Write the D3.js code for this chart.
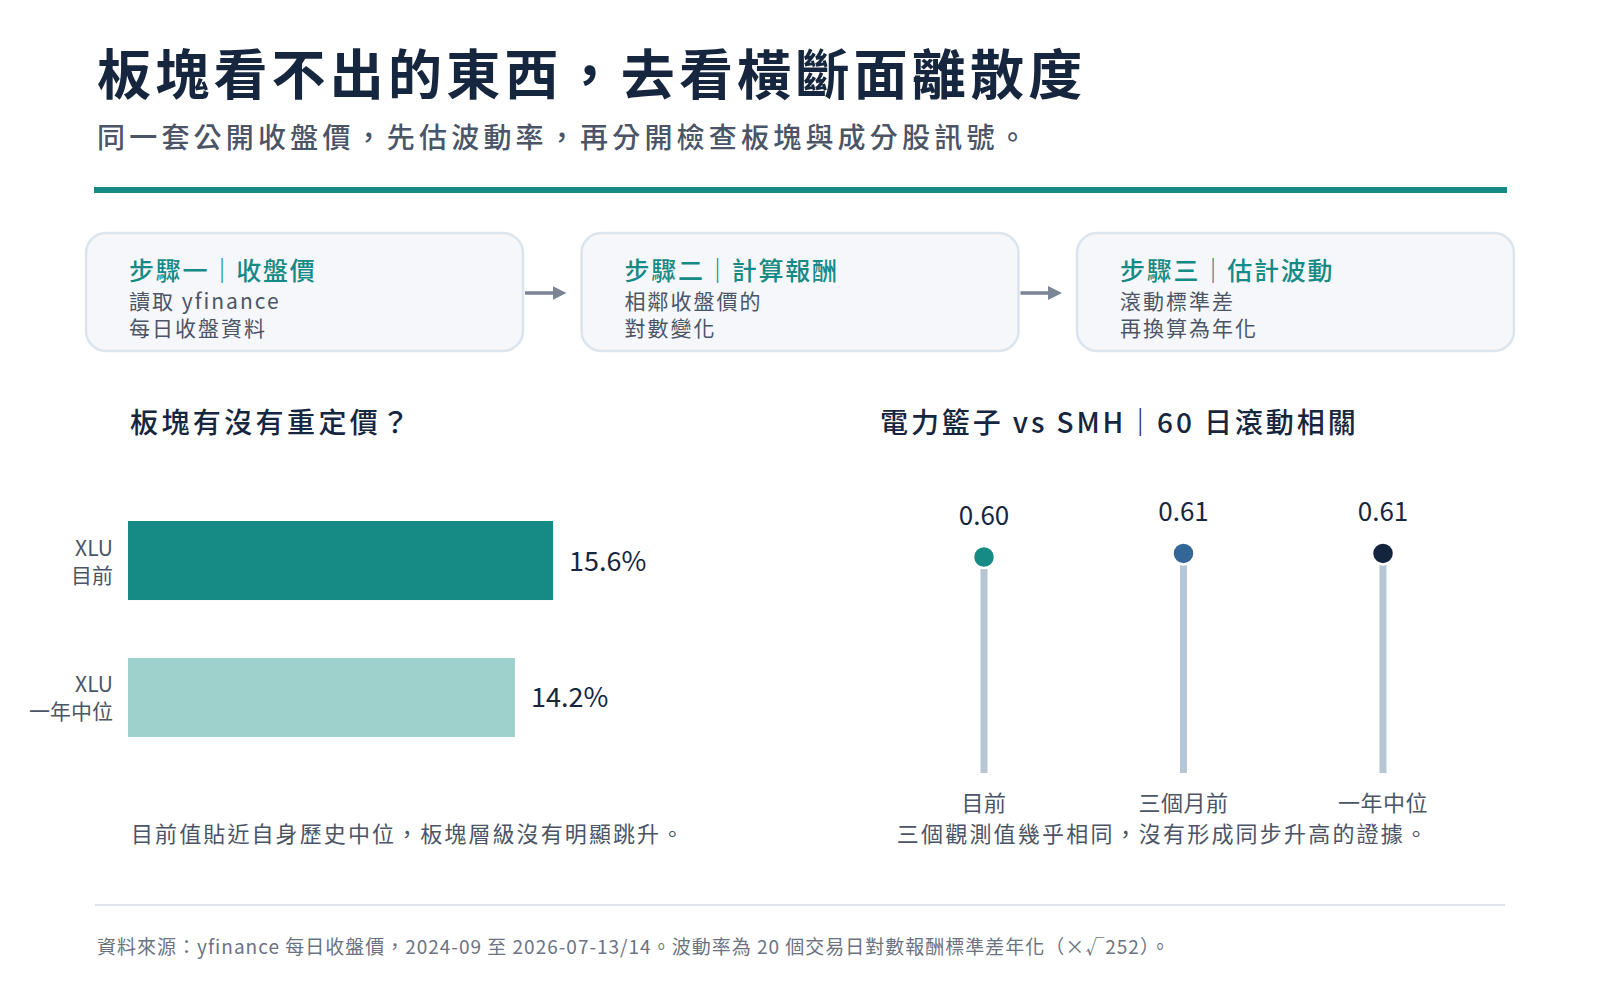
<!DOCTYPE html>
<html>
<head>
<meta charset="utf-8">
<script src="https://cdn.jsdelivr.net/npm/d3@7"></script>
<style>
  body { margin: 0; background: #fff; }
  text { font-family: "Noto Sans CJK TC", "Noto Sans", sans-serif; }
</style>
</head>
<body>
<svg width="1600" height="1000"></svg>
<script>
const stepTitles = ["步驟一｜收盤價", "步驟二｜計算報酬", "步驟三｜估計波動"];
const stepLines = [["讀取 yfinance", "每日收盤資料"], ["相鄰收盤價的", "對數變化"], ["滾動標準差", "再換算為年化"]];
const barLabels = [["XLU", "目前"], ["XLU", "一年中位"]];
const barValues = [15.6, 14.2];
const corrLabels = ["目前", "三個月前", "一年中位"];
const corrValues = [0.60, 0.61, 0.61];

const svg = d3.select("svg");
const navy = "#17263f", gray = "#4b5567", teal = "#168a84";

// header
svg.append("text").attr("x", 97).attr("y", 95)
    .attr("font-size", 54).attr("font-weight", 700).attr("fill", navy)
    .attr("letter-spacing", 4.2)
    .text("板塊看不出的東西，去看橫斷面離散度");
svg.append("text").attr("x", 97).attr("y", 148)
    .attr("font-size", 28).attr("font-weight", 500).attr("fill", gray)
    .attr("letter-spacing", 4.2)
    .text("同一套公開收盤價，先估波動率，再分開檢查板塊與成分股訊號。");
svg.append("rect").attr("x", 94).attr("y", 187).attr("width", 1413).attr("height", 6).attr("fill", teal);

// step boxes
const boxX = d3.scalePoint().domain(d3.range(3)).range([86, 1077]);
const boxW = 437;
const steps = svg.append("g").selectAll("g").data(stepTitles).enter().append("g")
    .attr("transform", (d, i) => "translate(" + boxX(i) + ",233)");
steps.append("rect").attr("width", boxW).attr("height", 118).attr("rx", 20)
    .attr("fill", "#f5f7fb").attr("stroke", "#dce4ee").attr("stroke-width", 2.5);
steps.append("text").attr("x", 43).attr("y", 47).attr("font-size", 25).attr("font-weight", 500)
    .attr("letter-spacing", 1.8).attr("fill", teal).text(d => d);
steps.each(function (d, i) {
    d3.select(this).selectAll("text.body").data(stepLines[i]).enter().append("text")
        .attr("class", "body").attr("x", 43).attr("y", (t, j) => 76 + j * 27)
        .attr("font-size", 21).attr("letter-spacing", 2).attr("fill", gray).text(t => t);
});
const defs = svg.append("defs");
defs.append("marker").attr("id", "arr").attr("viewBox", "0 0 10 10").attr("refX", 5).attr("refY", 5)
    .attr("markerWidth", 4).attr("markerHeight", 4).attr("orient", "auto")
    .append("path").attr("d", "M0,0L10,5L0,10z").attr("fill", "#7b8595");
svg.append("g").selectAll("line").data([0, 1]).enter().append("line")
    .attr("x1", i => boxX(i) + boxW + 2).attr("x2", i => boxX(i + 1) - 22)
    .attr("y1", 293).attr("y2", 293)
    .attr("stroke", "#7b8595").attr("stroke-width", 3.5).attr("marker-end", "url(#arr)");

// left panel: bars
svg.append("text").attr("x", 130).attr("y", 433).attr("font-size", 28).attr("font-weight", 500)
    .attr("letter-spacing", 3.4).attr("fill", navy).text("板塊有沒有重定價？");
const x = d3.scaleLinear().domain([0, 20]).range([128, 673]);
const y = d3.scaleBand().domain(d3.range(barValues.length)).range([521, 737]).paddingInner(0.423);
const barColors = [teal, "#9fd1cc"];
const bars = svg.append("g").selectAll("g").data(barValues).enter().append("g");
bars.append("rect").attr("x", x(0)).attr("y", (d, i) => y(i))
    .attr("width", d => x(d) - x(0)).attr("height", y.bandwidth())
    .attr("fill", (d, i) => barColors[i]);
bars.append("text").attr("x", d => x(d) + 16).attr("y", (d, i) => y(i) + y.bandwidth() / 2 + 10)
    .attr("font-size", 27).attr("fill", navy).text(d => d.toFixed(1) + "%");
bars.each(function (d, i) {
    d3.select(this).selectAll("text.lab").data(barLabels[i]).enter().append("text")
        .attr("class", "lab").attr("text-anchor", "end").attr("x", 113)
        .attr("y", (t, j) => y(i) + y.bandwidth() / 2 - 5 + j * 27)
        .attr("font-size", 21).attr("fill", gray).text(t => t);
});
svg.append("text").attr("x", 131).attr("y", 842).attr("font-size", 22).attr("fill", gray)
    .attr("letter-spacing", 2.1)
    .text("目前值貼近自身歷史中位，板塊層級沒有明顯跳升。");

// right panel: lollipops
svg.append("text").attr("x", 880).attr("y", 433).attr("font-size", 28).attr("font-weight", 500)
    .attr("letter-spacing", 2.9).attr("fill", navy).text("電力籃子 vs SMH｜60 日滾動相關");
const cx = d3.scalePoint().domain(corrLabels).range([984, 1383]);
const cy = d3.scaleLinear().domain([0, 1]).range([773, 413]);
const dotColors = [teal, "#336797", "#15243d"];
const pops = svg.append("g").selectAll("g").data(corrValues).enter().append("g");
pops.append("line").attr("x1", (d, i) => cx(corrLabels[i])).attr("x2", (d, i) => cx(corrLabels[i]))
    .attr("y1", cy(0)).attr("y2", d => cy(d))
    .attr("stroke", "#b7c6d5").attr("stroke-width", 7);
pops.append("circle").attr("cx", (d, i) => cx(corrLabels[i])).attr("cy", d => cy(d)).attr("r", 11)
    .attr("fill", (d, i) => dotColors[i]).attr("stroke", "#fff").attr("stroke-width", 2.5);
pops.append("text").attr("x", (d, i) => cx(corrLabels[i])).attr("y", d => cy(d) - 32)
    .attr("text-anchor", "middle").attr("font-size", 26).attr("fill", navy).text(d => d.toFixed(2));
pops.append("text").attr("x", (d, i) => cx(corrLabels[i])).attr("y", cy(0) + 38)
    .attr("text-anchor", "middle").attr("font-size", 22).attr("letter-spacing", 0.5)
    .attr("fill", gray).text((d, i) => corrLabels[i]);
svg.append("text").attr("x", 1163).attr("y", 842).attr("text-anchor", "middle")
    .attr("font-size", 22).attr("letter-spacing", 2.2).attr("fill", gray)
    .text("三個觀測值幾乎相同，沒有形成同步升高的證據。");

// footer
svg.append("line").attr("x1", 95).attr("x2", 1505).attr("y1", 905).attr("y2", 905)
    .attr("stroke", "#dfe4ec").attr("stroke-width", 2);
svg.append("text").attr("x", 97).attr("y", 954).attr("font-size", 19).attr("fill", "#6b7383")
    .attr("letter-spacing", 1)
    .text("資料來源：yfinance 每日收盤價，2024-09 至 2026-07-13/14。波動率為 20 個交易日對數報酬標準差年化（×√252）。");
</script>
</body>
</html>
